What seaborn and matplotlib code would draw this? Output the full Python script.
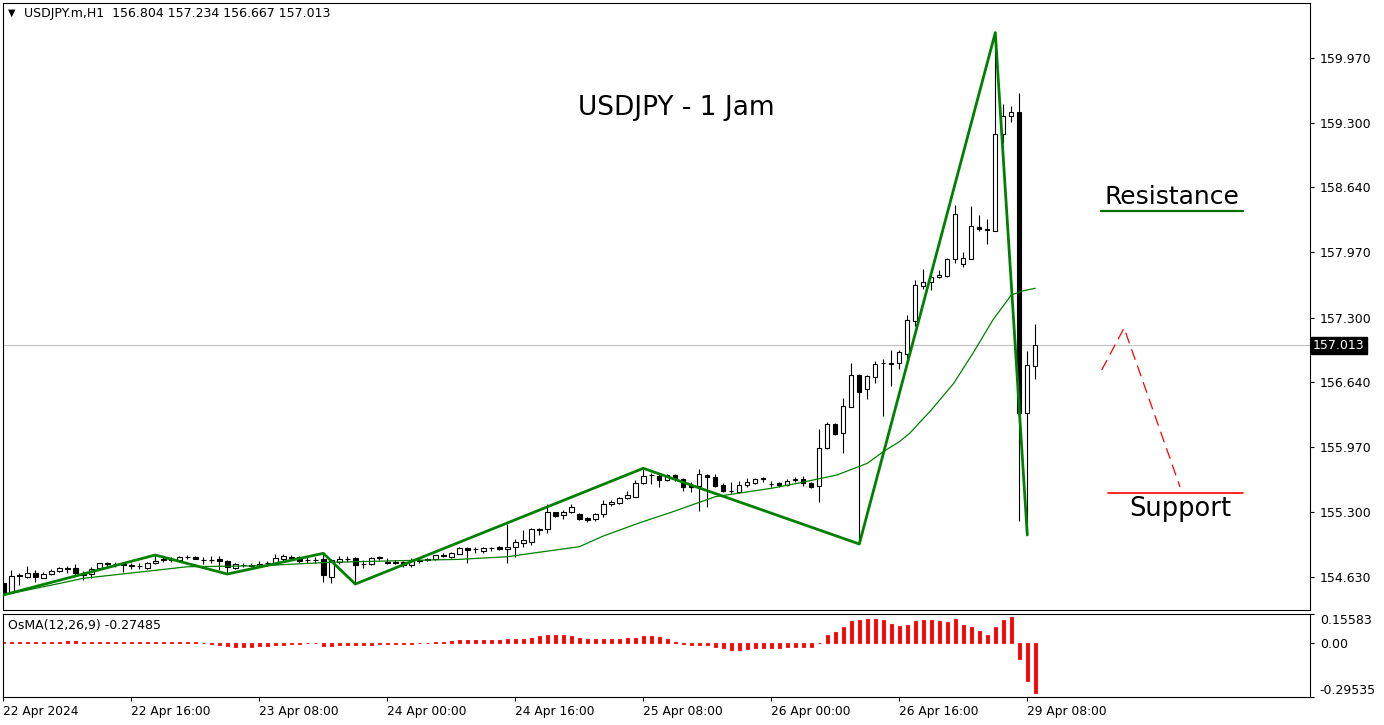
import numpy as np
import matplotlib
matplotlib.use("Agg")
import matplotlib.pyplot as plt
import seaborn as sns

# ---------------- data ----------------
opens = [
    154.571, 154.479, 154.650, 154.633, 154.668, 154.623, 154.658, 154.692, 154.720, 154.720,
    154.675, 154.658, 154.720, 154.771, 154.761, 154.761, 154.754, 154.743, 154.726, 154.771,
    154.812, 154.812, 154.805, 154.839, 154.833, 154.805, 154.808, 154.816, 154.792, 154.726,
    154.754, 154.754, 154.743, 154.771, 154.764, 154.819, 154.839, 154.833, 154.805, 154.808,
    154.812, 154.633, 154.785, 154.819, 154.823, 154.761, 154.764, 154.833, 154.785, 154.782,
    154.782, 154.751, 154.805, 154.812, 154.812, 154.857, 154.833, 154.867, 154.925, 154.915,
    154.901, 154.932, 154.936, 154.915, 154.942, 154.983, 154.994, 155.121, 155.121, 155.296,
    155.265, 155.296, 155.275, 155.234, 155.230, 155.278, 155.378, 155.389, 155.440, 155.457,
    155.594, 155.680, 155.670, 155.628, 155.680, 155.635, 155.577, 155.567, 155.680, 155.656,
    155.577, 155.518, 155.508, 155.577, 155.601, 155.645, 155.584, 155.594, 155.577, 155.635,
    155.635, 155.601, 155.570, 155.954, 156.205, 156.109, 156.383, 156.709, 156.562, 156.691,
    156.829, 156.835, 156.835, 156.925, 157.267, 157.627, 157.662, 157.714, 157.730, 157.899,
    157.848, 157.899, 158.231, 158.211, 158.193, 159.185, 159.377, 159.412, 156.315, 156.804]

highs = [
    154.599, 154.702, 154.671, 154.743, 154.702, 154.685, 154.709, 154.730, 154.743, 154.764,
    154.696, 154.736, 154.778, 154.788, 154.785, 154.778, 154.778, 154.778, 154.788, 154.857,
    154.833, 154.833, 154.846, 154.854, 154.846, 154.839, 154.846, 154.846, 154.805, 154.778,
    154.778, 154.771, 154.798, 154.795, 154.864, 154.867, 154.854, 154.846, 154.833, 154.833,
    154.874, 154.812, 154.846, 154.846, 154.839, 154.805, 154.839, 154.846, 154.823, 154.805,
    154.795, 154.823, 154.823, 154.826, 154.860, 154.874, 154.891, 154.942, 154.942, 154.942,
    154.942, 154.936, 154.949, 155.176, 155.018, 155.114, 155.138, 155.131, 155.381, 155.302,
    155.320, 155.381, 155.286, 155.251, 155.286, 155.423, 155.423, 155.457, 155.518, 155.628,
    155.749, 155.697, 155.697, 155.690, 155.690, 155.645, 155.611, 155.745, 155.690, 155.690,
    155.594, 155.611, 155.621, 155.645, 155.652, 155.663, 155.621, 155.611, 155.635, 155.659,
    155.670, 155.611, 156.150, 156.229, 156.218, 156.475, 156.829, 156.719, 156.709, 156.856,
    156.870, 156.966, 156.966, 157.326, 157.686, 157.796, 157.796, 157.789, 157.909, 158.455,
    157.974, 158.447, 158.355, 158.314, 160.231, 159.497, 159.476, 159.613, 156.959, 157.234]

lows = [
    154.445, 154.469, 154.548, 154.620, 154.581, 154.617, 154.647, 154.685, 154.675, 154.650,
    154.599, 154.617, 154.713, 154.736, 154.730, 154.685, 154.709, 154.709, 154.709, 154.764,
    154.785, 154.788, 154.788, 154.819, 154.812, 154.764, 154.771, 154.702, 154.661, 154.709,
    154.736, 154.730, 154.736, 154.743, 154.754, 154.798, 154.812, 154.778, 154.771, 154.778,
    154.581, 154.572, 154.764, 154.785, 154.558, 154.720, 154.754, 154.805, 154.761, 154.761,
    154.736, 154.736, 154.771, 154.795, 154.805, 154.833, 154.829, 154.867, 154.771, 154.874,
    154.874, 154.901, 154.908, 154.771, 154.839, 154.942, 154.960, 155.062, 155.086, 155.244,
    155.224, 155.286, 155.217, 155.200, 155.207, 155.244, 155.361, 155.378, 155.430, 155.450,
    155.587, 155.591, 155.560, 155.621, 155.621, 155.518, 155.508, 155.312, 155.354, 155.553,
    155.508, 155.498, 155.491, 155.560, 155.587, 155.611, 155.553, 155.553, 155.567, 155.605,
    155.567, 155.543, 155.405, 155.944, 156.092, 155.909, 156.376, 154.970, 156.462, 156.629,
    156.287, 156.595, 156.773, 156.829, 157.213, 157.590, 157.583, 157.704, 157.714, 157.864,
    157.817, 157.899, 158.193, 158.057, 158.190, 159.099, 159.315, 155.210, 155.063, 156.667]

closes = [
    154.469, 154.640, 154.645, 154.668, 154.627, 154.658, 154.692, 154.720, 154.709, 154.675,
    154.650, 154.716, 154.771, 154.761, 154.760, 154.759, 154.743, 154.740, 154.771, 154.798,
    154.802, 154.805, 154.833, 154.837, 154.819, 154.803, 154.806, 154.798, 154.736, 154.764,
    154.751, 154.743, 154.764, 154.770, 154.823, 154.846, 154.829, 154.795, 154.804, 154.802,
    154.647, 154.805, 154.812, 154.812, 154.754, 154.760, 154.823, 154.823, 154.771, 154.771,
    154.751, 154.792, 154.792, 154.802, 154.854, 154.846, 154.874, 154.925, 154.908, 154.914,
    154.932, 154.931, 154.921, 154.942, 154.987, 155.011, 155.124, 155.111, 155.296, 155.261,
    155.296, 155.347, 155.227, 155.217, 155.275, 155.378, 155.399, 155.440, 155.474, 155.594,
    155.670, 155.677, 155.628, 155.680, 155.642, 155.553, 155.560, 155.690, 155.663, 155.567,
    155.518, 155.517, 155.577, 155.611, 155.635, 155.635, 155.583, 155.577, 155.621, 155.628,
    155.594, 155.560, 155.954, 156.205, 156.102, 156.390, 156.709, 156.537, 156.698, 156.819,
    156.828, 156.822, 156.942, 157.271, 157.632, 157.662, 157.714, 157.737, 157.899, 158.362,
    157.909, 158.239, 158.208, 158.201, 159.185, 159.377, 159.412, 156.315, 156.812, 157.013]

# moving average (bar position, value)
ma_bars = [0, 7, 10, 23, 32, 41, 53, 57, 63, 66, 72, 75, 79.6, 83.7, 89, 96, 99.6, 104.2,
           108, 110, 112, 113.3, 116, 118.8, 121.2, 123.7, 126, 127.5, 129]
ma_vals = [154.445, 154.564, 154.617, 154.736, 154.746, 154.782, 154.805, 154.812, 154.839,
           154.874, 154.942, 155.052, 155.190, 155.302, 155.457, 155.543, 155.600, 155.680,
           155.800, 155.920, 156.022, 156.109, 156.349, 156.623, 156.932, 157.275, 157.532,
           157.575, 157.601]

# zigzag pivots: bar index and whether the pivot is a high
zz_bars = [0, 19, 28, 40, 44, 80, 107, 124, 128]
zz_is_high = [False, True, False, True, False, True, False, True, False]

osma = [
    0.004, 0.004, 0.004, 0.004, 0.004, 0.005, 0.005, 0.005, 0.007, 0.007,
    0.006, 0.004, 0.003, 0.003, 0.003, 0.003, 0.003, 0.003, 0.003, 0.003,
    0.003, 0.002, 0.002, 0.002, 0.002, -0.004, -0.006, -0.010, -0.018, -0.022,
    -0.024, -0.024, -0.020, -0.016, -0.013, -0.011, -0.009, -0.006, -0.004, -0.003,
    -0.016, -0.016, -0.015, -0.013, -0.011, -0.010, -0.010, -0.009, -0.008, -0.007,
    -0.006, -0.005, -0.004, -0.003, 0.002, 0.004, 0.008, 0.013, 0.016, 0.016,
    0.016, 0.016, 0.016, 0.018, 0.018, 0.022, 0.027, 0.034, 0.042, 0.043,
    0.042, 0.034, 0.024, 0.020, 0.020, 0.020, 0.020, 0.022, 0.024, 0.024,
    0.034, 0.034, 0.032, 0.020, 0.005, -0.005, -0.013, -0.013, -0.014, -0.024,
    -0.031, -0.040, -0.038, -0.034, -0.031, -0.029, -0.029, -0.027, -0.024, -0.024,
    -0.024, -0.024, -0.002, 0.042, 0.056, 0.085, 0.118, 0.125, 0.129, 0.129,
    0.121, 0.100, 0.091, 0.096, 0.118, 0.121, 0.121, 0.118, 0.114, 0.129,
    0.094, 0.085, 0.063, 0.042, 0.085, 0.121, 0.139, -0.091, -0.208, -0.27485]

price_ticks = [159.970, 159.300, 158.640, 157.970, 157.300, 156.640, 155.970, 155.300, 154.630]
last_price = 157.013
osma_ticks = [0.15583, 0.0, -0.29535]
osma_tick_labels = ["0.15583", "0.00", "-0.29535"]
date_bars = [0, 16, 32, 48, 64, 80, 96, 112, 128]
date_labels = ["22 Apr 2024", "22 Apr 16:00", "23 Apr 08:00", "24 Apr 00:00", "24 Apr 16:00",
               "25 Apr 08:00", "26 Apr 00:00", "26 Apr 16:00", "29 Apr 08:00"]
header = "USDJPY.m,H1  156.804 157.234 156.667 157.013"
osma_header = "OsMA(12,26,9) -0.27485"

# hand drawn analysis objects (bar position, price)
resistance_x = [137.2, 155.0]
resistance_y = [158.396, 158.396]
support_x = [138.1, 155.0]
support_y = [155.495, 155.495]
path_x = [137.3, 140.1, 147.1]
path_y = [156.760, 157.192, 155.556]

# ---------------- drawing ----------------
sns.set_style("white")
plt.rcParams["font.family"] = ["DejaVu Sans"]
plt.rcParams["text.color"] = "black"
plt.rcParams["xtick.color"] = "black"
plt.rcParams["ytick.color"] = "black"
plt.rcParams["axes.labelcolor"] = "black"

W, H = 1384, 725
fig = plt.figure(figsize=(W / 100, H / 100), dpi=100)
fig.patch.set_facecolor("white")


def box(x0, y0, x1, y1):
    return [x0 / W, 1 - y1 / H, (x1 - x0) / W, (y1 - y0) / H]


ax = fig.add_axes(box(3, 3, 1310, 610))
ax2 = fig.add_axes(box(3, 614, 1310, 697))

o = np.array(opens)
h = np.array(highs)
l = np.array(lows)
c = np.array(closes)
idx = np.arange(len(o))

ax.axhline(last_price, color="#c0c0c0", lw=0.8, zorder=1)
ax.vlines(idx, l, h, color="black", lw=0.8, zorder=2)
up = c >= o
ax.bar(idx, np.abs(c - o), bottom=np.minimum(o, c), width=0.55,
       color=np.where(up, "white", "black"), edgecolor="black", linewidth=0.8, zorder=3)

sns.lineplot(x=ma_bars, y=ma_vals, ax=ax, color="#008000", lw=0.9, zorder=4)
zz_vals = [h[i] if hi else l[i] for i, hi in zip(zz_bars, zz_is_high)]
sns.lineplot(x=zz_bars, y=zz_vals, ax=ax, color="#008000", lw=2.0, zorder=5)

ax.plot(resistance_x, resistance_y, color="#007000", lw=1.6, zorder=5)
ax.plot(support_x, support_y, color="red", lw=1.2, zorder=5)
ax.plot(path_x, path_y, color="red", lw=0.9, dashes=(9, 5), zorder=5)

ax.set_xlim(-0.04, 163.34)
ax.set_ylim(154.291, 160.536)
ax.set_xticks([])
ax.yaxis.tick_right()
ax.set_yticks(price_ticks)
ax.set_yticklabels([f"{p:.3f}" for p in price_ticks], fontsize=9)
ax.tick_params(axis="y", direction="out", length=3, width=0.8, pad=4, right=True, left=False)
ax.set_xlabel("")
ax.set_ylabel("")
for s in ax.spines.values():
    s.set_color("black")
    s.set_linewidth(0.8)

ax.text(1.0 + 3 / 1307, last_price, f"{last_price:.3f}", transform=ax.get_yaxis_transform(),
        fontsize=9, color="white", va="center", ha="left",
        bbox=dict(boxstyle="square,pad=0.15", facecolor="black", edgecolor="black"))

# OsMA
sns.barplot(x=idx, y=osma, ax=ax2, native_scale=True, color="red", saturation=1,
            width=0.42, edgecolor="red", linewidth=0.6, errorbar=None)
ax2.set_xlim(-0.04, 163.34)
ax2.set_ylim(osma_ticks[2], osma_ticks[0])
ax2.yaxis.tick_right()
ax2.set_yticks(osma_ticks)
ax2.set_yticklabels(osma_tick_labels, fontsize=9)
labs = ax2.get_yticklabels()
labs[0].set_va("top")
labs[2].set_va("bottom")
ax2.tick_params(axis="y", direction="out", length=3, width=0.8, pad=4, right=True, left=False)
ax2.set_xticks(date_bars)
ax2.set_xticklabels(date_labels, fontsize=8.8, ha="left")
ax2.tick_params(axis="x", direction="out", length=3, width=0.8, pad=3, bottom=True)
ax2.set_xlabel("")
ax2.set_ylabel("")
for s in ax2.spines.values():
    s.set_color("black")
    s.set_linewidth(0.8)

# texts
fig.text(12 / W, 1 - 13 / H, "\u25bc", fontsize=7, ha="center", va="center")
fig.text(24 / W, 1 - 14 / H, header, fontsize=9, ha="left", va="center")
fig.text(8 / W, 1 - 626 / H, osma_header, fontsize=9, ha="left", va="center")
fig.text(676 / W, 1 - 108 / H, "USDJPY - 1 Jam", fontsize=19, ha="center", va="center")
fig.text(1172 / W, 1 - 197 / H, "Resistance", fontsize=18, ha="center", va="center")
fig.text(1180 / W, 1 - 509 / H, "Support", fontsize=18.5, ha="center", va="center")

fig.savefig("out.png", dpi=100, facecolor="white")
